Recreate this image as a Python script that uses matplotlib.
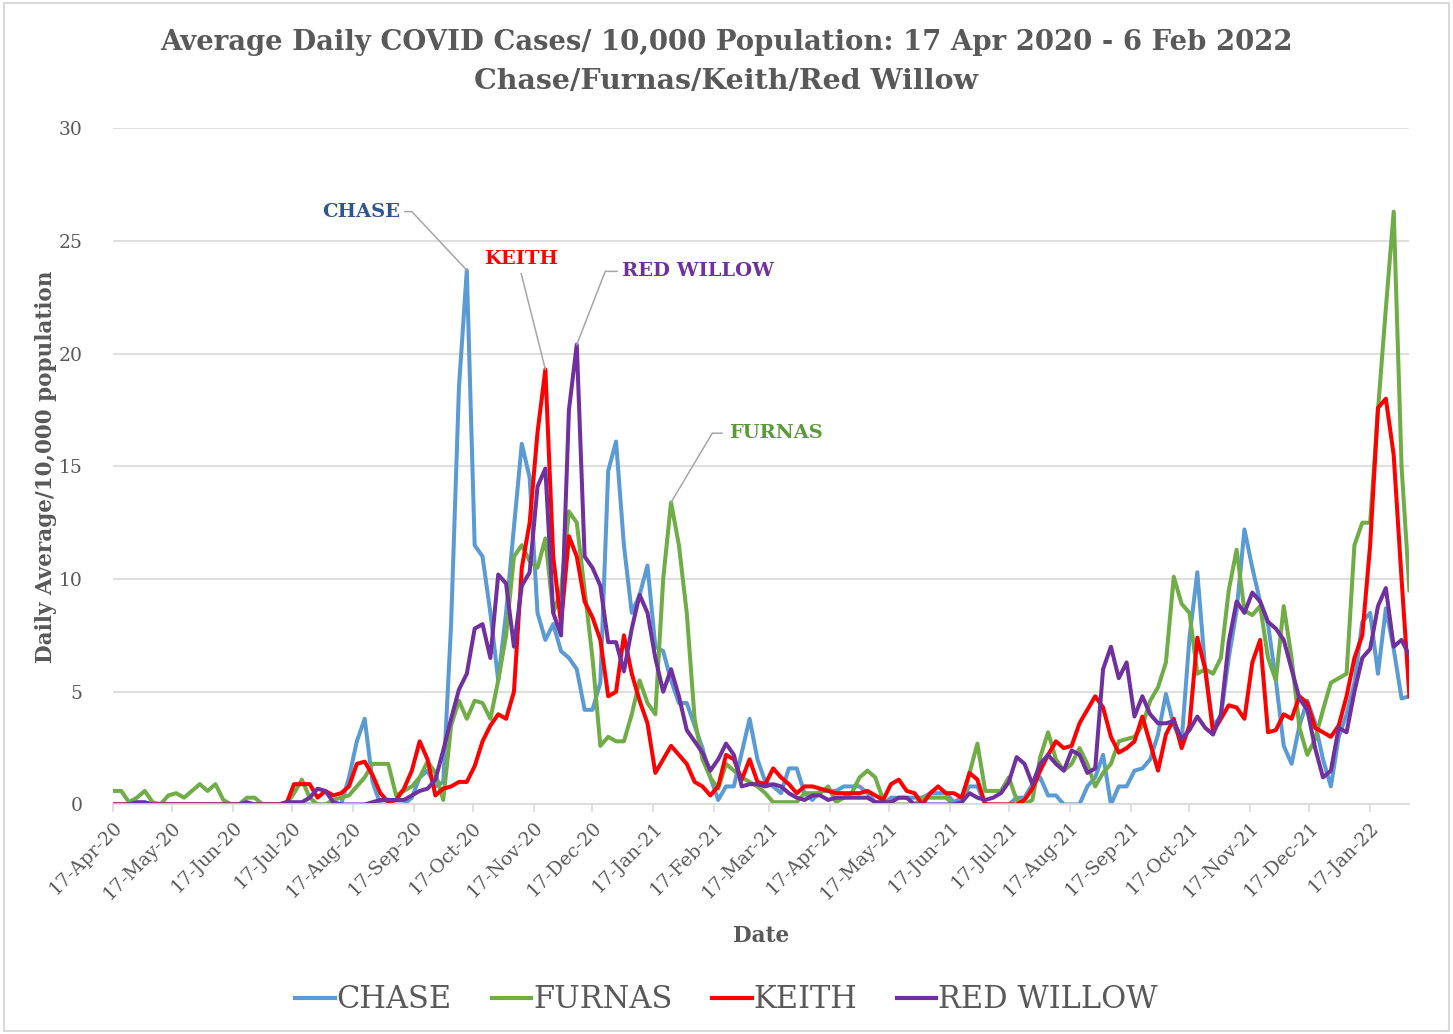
import matplotlib
matplotlib.use("Agg")
import matplotlib.pyplot as plt
import matplotlib.dates as mdates
import numpy as np
import pandas as pd
from matplotlib.lines import Line2D
from matplotlib.patches import Rectangle

# ── data: 7-day average cases / 10,000, sampled every 4 days from 17 Apr 2020 ──
START = "2020-04-17"
STEP_DAYS = 4

CHASE = [
    0, 0, 0, 0, 0, 0, 0, 0, 0, 0,
    0, 0, 0, 0, 0, 0, 0, 0, 0, 0,
    0, 0, 0, 0, 0, 0, 0, 0, 0, 0,
    1.2, 2.8, 3.8, 1.0, 0, 0, 0, 0, 0.3, 1.2,
    1.5, 0.8, 1.0, 8.0, 18.5, 23.7, 11.5, 11.0, 8.5, 5.5,
    8.5, 12.3, 16.0, 14.5, 8.5, 7.3, 8.0, 6.8, 6.5, 6.0,
    4.2, 4.2, 5.4, 14.8, 16.1, 11.5, 8.5, 9.3, 10.6, 7.0,
    6.8, 5.5, 4.5, 4.5, 3.5, 2.5, 1.2, 0.2, 0.8, 0.8,
    2.3, 3.8, 2.0, 1.0, 0.8, 0.5, 1.6, 1.6, 0.5, 0.2,
    0.6, 0.6, 0.6, 0.8, 0.8, 0.8, 0.5, 0.1, 0, 0.3,
    0.3, 0.3, 0.3, 0.3, 0.5, 0.5, 0.5, 0.1, 0.3, 0.8,
    0.8, 0, 0, 0, 0, 0.3, 0.3, 0.9, 1.2, 0.4,
    0.4, 0, 0, 0, 0.8, 1.2, 2.2, 0, 0.8, 0.8,
    1.5, 1.6, 2.0, 3.1, 4.9, 3.5, 2.8, 7.4, 10.3, 6.0,
    3.5, 3.9, 6.5, 8.6, 12.2, 10.5, 9.0, 8.0, 5.5, 2.6,
    1.8, 3.5, 4.6, 3.6, 2.0, 0.8, 3.0, 4.0, 5.4, 8.1,
    8.5, 5.8, 8.7, 6.9, 4.7, 4.8,
]

FURNAS = [
    0.6, 0.6, 0.1, 0.3, 0.6, 0.1, 0, 0.4, 0.5, 0.3,
    0.6, 0.9, 0.6, 0.9, 0.2, 0, 0, 0.3, 0.3, 0,
    0, 0, 0, 0.5, 1.1, 0.3, 0, 0, 0.2, 0.3,
    0.4, 0.8, 1.2, 1.8, 1.8, 1.8, 0.4, 0.6, 0.8, 1.2,
    1.9, 1.4, 0.2, 3.5, 4.6, 3.8, 4.6, 4.5, 3.8, 5.5,
    7.5, 11.0, 11.5, 10.8, 10.5, 11.8, 8.5, 9.5, 13.0, 12.5,
    9.5, 6.5, 2.6, 3.0, 2.8, 2.8, 4.0, 5.5, 4.5, 4.0,
    10.0, 13.4, 11.5, 8.5, 3.8, 2.0, 1.2, 0.7, 1.8, 1.5,
    1.2, 1.0, 0.8, 0.5, 0.1, 0.1, 0.1, 0.1, 0.5, 0.5,
    0.5, 0.8, 0.1, 0.3, 0.5, 1.2, 1.5, 1.2, 0.2, 0,
    0, 0, 0, 0.3, 0.3, 0.3, 0.3, 0, 0, 1.4,
    2.7, 0.6, 0.6, 0.6, 1.2, 0.2, 0, 0.2, 2.1, 3.2,
    2.0, 1.5, 1.8, 2.5, 1.8, 0.8, 1.4, 1.8, 2.8, 2.9,
    3.0, 3.5, 4.6, 5.2, 6.3, 10.1, 8.9, 8.5, 5.8, 6.0,
    5.8, 6.5, 9.5, 11.3, 8.6, 8.4, 8.8, 6.5, 5.5, 8.8,
    6.5, 3.4, 2.2, 2.9, 4.2, 5.4, 5.6, 5.8, 11.5, 12.5,
    12.5, 17.5, 22.0, 26.3, 15.0, 9.5,
]

KEITH = [
    0, 0, 0, 0, 0, 0, 0, 0, 0, 0,
    0, 0, 0, 0, 0, 0, 0, 0, 0, 0,
    0, 0, 0, 0.9, 0.9, 0.9, 0.3, 0.6, 0.4, 0.5,
    0.8, 1.8, 1.9, 1.3, 0.5, 0.1, 0.2, 0.7, 1.5, 2.8,
    2.0, 0.4, 0.7, 0.8, 1.0, 1.0, 1.7, 2.8, 3.5, 4.0,
    3.8, 5.0, 10.5, 12.5, 16.5, 19.3, 11.0, 8.0, 11.9, 11.0,
    9.0, 8.3, 7.3, 4.8, 5.0, 7.5, 5.8, 4.6, 3.6, 1.4,
    2.0, 2.6, 2.2, 1.8, 1.0, 0.8, 0.4, 0.8, 2.2, 2.0,
    1.1, 2.0, 1.0, 0.9, 1.6, 1.2, 0.9, 0.5, 0.8, 0.8,
    0.7, 0.6, 0.5, 0.5, 0.5, 0.5, 0.6, 0.4, 0.2, 0.9,
    1.1, 0.6, 0.5, 0, 0.5, 0.8, 0.5, 0.5, 0.3, 1.4,
    1.1, 0, 0, 0, 0, 0, 0.2, 0.7, 1.5, 2.2,
    2.8, 2.5, 2.6, 3.6, 4.2, 4.8, 4.3, 3.0, 2.3, 2.5,
    2.8, 3.9, 2.7, 1.5, 3.1, 3.8, 2.5, 3.5, 7.4, 6.0,
    3.2, 3.8, 4.4, 4.3, 3.8, 6.3, 7.3, 3.2, 3.3, 4.0,
    3.8, 4.8, 4.5, 3.4, 3.2, 3.0, 3.5, 4.8, 6.5, 7.5,
    11.5, 17.6, 18.0, 15.5, 10.0, 4.8,
]

RED_WILLOW = [
    0, 0, 0, 0.1, 0.1, 0, 0, 0, 0, 0,
    0, 0, 0, 0, 0, 0, 0, 0.1, 0, 0,
    0, 0, 0.1, 0.1, 0.1, 0.3, 0.7, 0.6, 0.1, 0,
    0, 0, 0, 0.1, 0.2, 0.2, 0.2, 0.2, 0.4, 0.6,
    0.7, 1.1, 2.4, 3.8, 5.1, 5.8, 7.8, 8.0, 6.5, 10.2,
    9.8, 7.0, 9.7, 10.3, 14.1, 14.9, 8.5, 7.5, 17.5, 20.4,
    11.0, 10.5, 9.7, 7.2, 7.2, 5.9, 7.8, 9.3, 8.5, 6.5,
    5.0, 6.0, 4.8, 3.3, 2.8, 2.3, 1.5, 2.0, 2.7, 2.2,
    0.8, 0.9, 0.9, 0.8, 0.9, 0.8, 0.5, 0.3, 0.2, 0.4,
    0.4, 0.2, 0.3, 0.3, 0.3, 0.3, 0.3, 0.1, 0.1, 0.1,
    0.3, 0.3, 0, 0, 0, 0, 0, 0, 0.1, 0.5,
    0.3, 0.2, 0.3, 0.5, 1.0, 2.1, 1.8, 0.9, 1.8, 2.2,
    1.8, 1.5, 2.4, 2.2, 1.4, 1.6, 6.0, 7.0, 5.6, 6.3,
    3.9, 4.8, 4.0, 3.6, 3.6, 3.7, 2.9, 3.3, 3.9, 3.4,
    3.1, 4.0, 7.2, 9.0, 8.5, 9.4, 9.0, 8.1, 7.8, 7.3,
    6.0, 4.7, 4.2, 2.5, 1.2, 1.5, 3.4, 3.2, 5.0, 6.5,
    6.9, 8.8, 9.6, 7.0, 7.3, 6.6,
]

SERIES_NAMES = ["CHASE", "FURNAS", "KEITH", "RED WILLOW"]

# ── styling ────────────────────────────────────────────────────────────────
COLORS = ["#5B9BD5", "#70AD47", "#FF0000", "#7030A0"]
LABEL_COLORS = ["#2F5597", "#5B9A3A", "#FF0000", "#7030A0"]
TEXT_GREY = "#595959"
GRID_GREY = "#D9D9D9"

plt.rcParams["font.family"] = ["DejaVu Serif"]

dates = pd.date_range(START, periods=len(CHASE), freq=f"{STEP_DAYS}D")
series = [np.array(CHASE), np.array(FURNAS), np.array(KEITH), np.array(RED_WILLOW)]

fig = plt.figure(figsize=(14.53, 10.34), dpi=100)
ax = fig.add_axes([0.078, 0.222, 0.892, 0.654])

for vals, name, col in zip(series, SERIES_NAMES, COLORS):
    ax.plot(dates, vals, color=col, lw=2.9, label=name, solid_joinstyle="round")

ax.set_xlim(dates[0], dates[-1])
ax.set_ylim(0, 30)
ax.set_yticks(range(0, 31, 5))
ax.yaxis.grid(True, color=GRID_GREY, lw=1.2)
ax.set_axisbelow(True)
for s in ("top", "right", "left"):
    ax.spines[s].set_visible(False)
ax.spines["bottom"].set_color(GRID_GREY)
ax.spines["bottom"].set_linewidth(1.2)

ax.xaxis.set_major_locator(mdates.DayLocator(bymonthday=17))
ax.xaxis.set_major_formatter(mdates.DateFormatter("%d-%b-%y"))
ax.tick_params(axis="x", length=6, color=GRID_GREY, width=1.2,
               labelsize=13.5, labelcolor=TEXT_GREY, pad=4)
ax.tick_params(axis="y", length=0, labelsize=13.5, labelcolor=TEXT_GREY, pad=22)
for lab in ax.get_xticklabels():
    lab.set_rotation(45)
    lab.set_ha("right")
    lab.set_rotation_mode("anchor")


# ── peak call-outs ─────────────────────────────────────────────────────────
def day(n):
    return mdates.date2num(pd.Timestamp(START) + pd.Timedelta(days=n))


def peak(vals, upto=None):
    v = vals if upto is None else vals[:upto]
    i = int(np.argmax(v))
    return mdates.date2num(dates[i]), v[i]


callouts = [
    # text, series idx, text x (day), text y, ha, leader start/elbow (days), search limit
    ("CHASE", 0, 146, 26.3, "right", [(148.5, 26.3), (152, 26.3)], None),
    ("KEITH", 2, 207.7, 24.2, "center", [(207.7, 23.55)], 100),
    ("RED WILLOW", 3, 259, 23.65, "left", [(256.5, 23.65), (250.5, 23.65)], None),
    ("FURNAS", 1, 313.6, 16.47, "left", [(310, 16.47), (305, 16.47)], 80),
]
for text, idx, tx, ty, ha, pts, lim in callouts:
    px, py = peak(series[idx], lim)
    xs = [day(p[0]) for p in pts] + [px]
    ys = [p[1] for p in pts] + [py]
    ax.plot(xs, ys, color="#A6A6A6", lw=1.1, zorder=5)
    ax.text(day(tx), ty, text, ha=ha, va="center", fontsize=14,
            fontweight="bold", color=LABEL_COLORS[idx], zorder=6)

# ── titles, labels, legend ─────────────────────────────────────────────────
fig.text(0.5, 0.959, "Average Daily COVID Cases/ 10,000 Population: 17 Apr 2020 - 6 Feb 2022",
         ha="center", va="center", fontsize=19.8, fontweight="bold", color=TEXT_GREY)
fig.text(0.5, 0.921, "Chase/Furnas/Keith/Red Willow",
         ha="center", va="center", fontsize=20.5, fontweight="bold", color=TEXT_GREY)
fig.text(0.032, 0.549, "Daily Average/10,000 population", rotation=90,
         ha="center", va="center", fontsize=15.5, fontweight="bold", color=TEXT_GREY)
fig.text(0.524, 0.095, "Date", ha="center", va="center",
         fontsize=15.5, fontweight="bold", color=TEXT_GREY)

handles = [Line2D([], [], color=c, lw=3) for c in COLORS]
leg = fig.legend(handles, SERIES_NAMES, loc="center", bbox_to_anchor=(0.5, 0.033),
                 ncol=4, frameon=False, fontsize=22, handlelength=1.3,
                 handletextpad=0.05, columnspacing=1.3)
for t in leg.get_texts():
    t.set_color(TEXT_GREY)

fig.patches.append(Rectangle((0.003, 0.003), 0.994, 0.994, transform=fig.transFigure,
                             fill=False, edgecolor=GRID_GREY, lw=1.5))

fig.savefig("out.png", dpi=100, facecolor="white")
